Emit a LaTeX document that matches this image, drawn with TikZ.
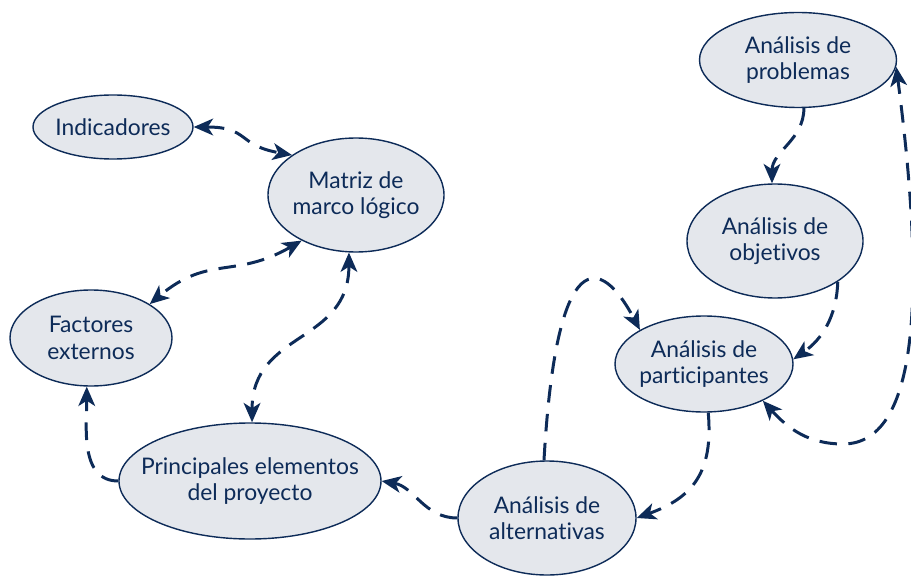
\documentclass[tikz,border=0pt]{standalone}
\usepackage{fontspec}
\setmainfont{Lato}[Ligatures=NoCommon]
\usetikzlibrary{positioning,shapes.geometric,arrows.meta}
\definecolor{navy}{HTML}{0D2B58}
\definecolor{bubble}{HTML}{E4E7EC}

\begin{document}
\begin{tikzpicture}[on grid, >={Stealth[length=11pt,width=9.5pt,inset=3pt]},
    stage/.style={ellipse, draw=navy, fill=bubble, line width=0.8pt, text=navy,
      inner xsep=-1cm, inner ysep=0pt, align=center,
      font=\fontsize{13}{15}\selectfont},
    link/.style={navy, line width=1.7pt, dash pattern=on 10pt off 6.5pt}]
    \useasboundingbox (0,0) rectangle (18.22,11.54);

    \node[stage, minimum width=3.2cm, minimum height=1.28cm] (ind) at (2.26,9.00) {Indicadores};
    \node[stage, minimum width=3.52cm, minimum height=2.28cm, below right=1.36cm and 4.86cm of ind] (mat) {Matriz de\\marco lógico};
    \node[stage, minimum width=3.24cm, minimum height=1.92cm, below left=4.22cm and 0.44cm of ind] (fac) {Factores\\externos};
    \node[stage, minimum width=5.24cm, minimum height=2.32cm, below right=2.86cm and 3.18cm of fac] (pri) {Principales elementos\\del proyecto};
    \node[stage, minimum width=3.56cm, minimum height=2.28cm, below right=0.74cm and 5.94cm of pri] (alt) {Análisis de\\alternativas};
    \node[stage, minimum width=3.56cm, minimum height=1.92cm, above right=3.08cm and 3.14cm of alt] (par) {Análisis de\\participantes};
    \node[stage, minimum width=3.52cm, minimum height=2.28cm, above right=2.46cm and 1.42cm of par] (obj) {Análisis de\\objetivos};
    \node[stage, minimum width=3.94cm, minimum height=1.90cm, above right=3.62cm and 0.46cm of obj] (pro) {Análisis de\\problemas};
    \coordinate (bend) at (16.86,2.66);

    \draw[link] (ind.east) edge[<->, out=0, in=170, looseness=1.4] (mat.148);
    \draw[link] (mat.220) edge[<->, out=210, in=40, looseness=1.2] (fac.30)
                (mat.263) edge[<->, out=270, in=90, looseness=1.2] (pri.88);
    \draw[link] (pri.west) edge[->, out=180, in=270] (fac.265);
    \draw[link] (alt.west) edge[->, out=180, in=-10] (pri.east);
    \draw[link, ->] (alt.93) .. controls +(0.25,4.4) and +(-0.77,1.46) .. (par.152);
    \draw[link] (par.275) edge[->, out=275, in=20, looseness=1.2] (alt.east);
    \draw[link] (obj.-33) edge[->, out=268, in=35] (par.3);
    \draw[link] (pro.277) edge[->, out=270, in=90] (obj.93);
    \draw[link, <->] (par.-32) .. controls +(0.5,-0.55) and +(-0.7,0) .. (bend)
                     .. controls +(1.6,0) and +(0.55,-4.2) .. (pro.-4);
\end{tikzpicture}
\end{document}
